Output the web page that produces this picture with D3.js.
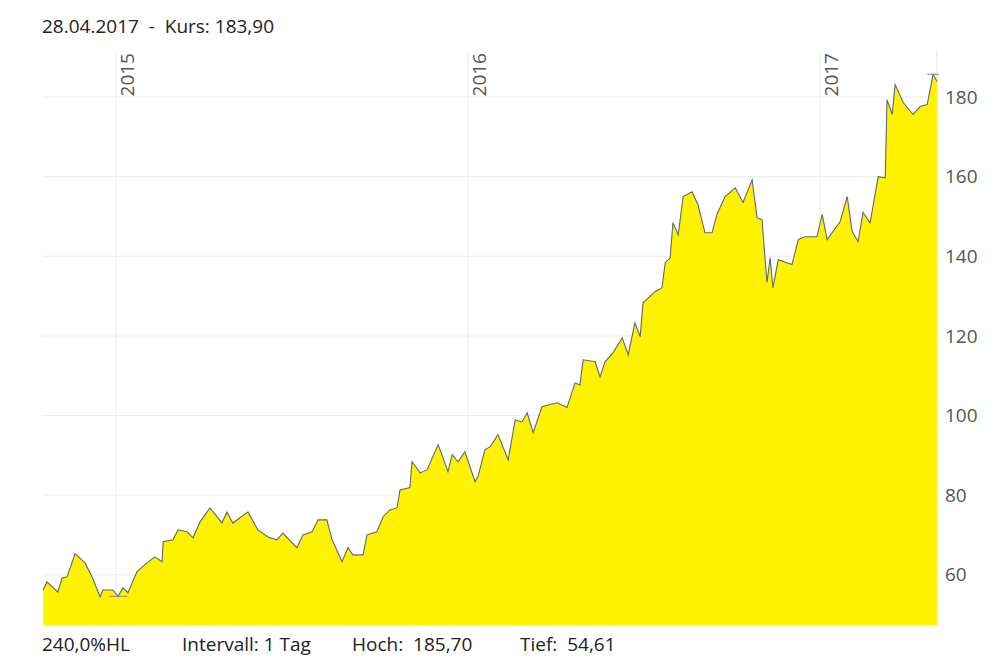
<!DOCTYPE html>
<html>
<head>
<meta charset="utf-8">
<script src="https://cdn.jsdelivr.net/npm/d3@7"></script>
<style>
  body { margin: 0; background: #fff; font-family: "Open Sans", sans-serif; }
</style>
</head>
<body>
<div id="chart"></div>
<script>
// decimal year, price
const times = [2014.793,2014.804,2014.835,2014.847,2014.861,2014.884,2014.912,2014.932,2014.955,2014.963,
  2014.991,2015.006,2015.020,2015.034,2015.060,2015.088,2015.111,2015.131,2015.134,2015.162,
  2015.176,2015.202,2015.219,2015.239,2015.267,2015.287,2015.301,2015.315,2015.332,2015.375,
  2015.403,2015.432,2015.457,2015.474,2015.514,2015.531,2015.557,2015.574,2015.599,2015.614,
  2015.642,2015.659,2015.673,2015.702,2015.713,2015.741,2015.759,2015.778,2015.798,2015.807,
  2015.835,2015.841,2015.864,2015.884,2015.915,2015.929,2015.943,2015.955,2015.972,2015.991,
  2016.020,2016.028,2016.048,2016.063,2016.085,2016.114,2016.134,2016.153,2016.168,2016.185,
  2016.210,2016.253,2016.281,2016.304,2016.318,2016.327,2016.361,2016.375,2016.389,2016.412,
  2016.438,2016.455,2016.474,2016.489,2016.497,2016.531,2016.551,2016.560,2016.574,2016.582,
  2016.597,2016.611,2016.636,2016.653,2016.673,2016.693,2016.707,2016.730,2016.759,2016.781,
  2016.807,2016.821,2016.835,2016.849,2016.858,2016.866,2016.881,2016.920,2016.938,2016.957,
  2016.991,2017.006,2017.020,2017.057,2017.077,2017.091,2017.108,2017.122,2017.142,2017.165,
  2017.185,2017.190,2017.205,2017.213,2017.236,2017.264,2017.284,2017.304,2017.321,2017.332];
const prices = [56.2,58.2,55.7,59.2,59.5,65.3,63.0,59.5,54.5,56.2,
  56.2,54.6,56.7,55.5,60.8,63.0,64.5,63.3,68.3,68.8,
  71.3,70.8,69.3,73.3,76.8,74.6,73.0,75.8,73.0,75.8,
  71.3,69.5,68.8,70.5,66.8,70.0,70.8,73.8,73.8,68.8,
  63.3,66.8,65.0,65.0,70.0,70.8,74.6,76.3,76.8,81.3,
  81.9,88.4,85.6,86.4,92.7,89.4,85.9,90.2,88.4,90.9,
  83.4,84.6,91.4,92.2,95.2,88.9,98.9,98.4,100.7,95.7,
  102.2,103.2,102.0,108.2,107.7,114.0,113.5,109.7,113.5,115.8,
  119.5,115.3,123.3,119.8,128.3,131.1,132.1,138.4,139.6,148.4,
  145.4,155.0,156.2,153.0,145.9,145.9,150.5,155.0,157.2,153.5,
  159.2,149.7,149.2,133.4,139.6,132.1,139.1,137.9,144.2,144.9,
  144.9,150.5,144.2,148.7,155.0,146.2,143.7,151.0,148.4,160.0,
  159.7,179.3,175.6,183.1,178.6,175.6,177.6,178.1,185.7,183.9];
const yTicks = [60, 80, 100, 120, 140, 160, 180];
const yearTicks = [2015, 2016, 2017];
const footer = [["240,0%HL", 42], ["Intervall: 1 Tag", 182], ["Hoch:  185,70", 352], ["Tief:  54,61", 520]];
const data = times.map((t, i) => ({ t, v: prices[i] }));

const W = 998, H = 670;
const x = d3.scaleLinear().domain([2014.79, 2017.332]).range([42, 937]);
const y = d3.scaleLinear().domain([47.4, 191.8]).range([625, 50]);

const svg = d3.select("#chart").append("svg").attr("width", W).attr("height", H);

svg.append("g").selectAll("line").data(yTicks).join("line")
  .attr("x1", 42).attr("x2", 937).attr("y1", d => y(d)).attr("y2", d => y(d))
  .attr("stroke", "#ececec");
svg.append("g").selectAll("line").data(yearTicks).join("line")
  .attr("x1", d => x(d)).attr("x2", d => x(d)).attr("y1", 50).attr("y2", 625)
  .attr("stroke", "#ececec");
svg.append("line").attr("x1", 937).attr("x2", 937).attr("y1", 50).attr("y2", 625).attr("stroke", "#e4e4e4");

svg.append("path").datum(data)
  .attr("d", d3.area().x(d => x(d.t)).y0(625).y1(d => y(d.v)))
  .attr("fill", "#fff200");
svg.append("path").datum(data)
  .attr("d", d3.line().x(d => x(d.t)).y(d => y(d.v)))
  .attr("fill", "none").attr("stroke", "#5f6773").attr("stroke-width", 1.1);

// high / low markers
svg.append("line").attr("x1", x(2017.321) - 6).attr("x2", x(2017.321) + 6)
  .attr("y1", y(185.7)).attr("y2", y(185.7)).attr("stroke", "#888");
svg.append("line").attr("x1", x(2015.006) - 9).attr("x2", x(2015.006) + 9)
  .attr("y1", y(54.61)).attr("y2", y(54.61)).attr("stroke", "#888");

svg.append("g").selectAll("text").data(yTicks).join("text")
  .attr("x", 945).attr("y", d => y(d)).attr("dy", "0.35em")
  .attr("font-size", 19).attr("fill", "#555").text(d => d);

svg.append("g").selectAll("text").data(yearTicks).join("text")
  .attr("transform", d => `translate(${x(d) + 18},53) rotate(-90)`)
  .attr("text-anchor", "end").attr("font-size", 19).attr("fill", "#555").text(d => d);

svg.append("text").attr("x", 42).attr("y", 33).attr("font-size", 19).attr("fill", "#222")
  .attr("xml:space", "preserve").text("28.04.2017  -  Kurs: 183,90");

svg.append("g").selectAll("text").data(footer).join("text")
  .attr("x", d => d[1]).attr("y", 651).attr("font-size", 19).attr("fill", "#222")
  .attr("xml:space", "preserve").text(d => d[0]);
</script>
</body>
</html>
